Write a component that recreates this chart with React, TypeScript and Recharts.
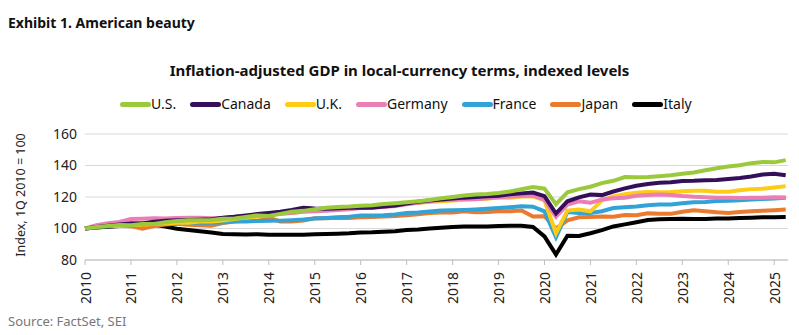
import { LineChart, Line, XAxis, YAxis, CartesianGrid } from 'recharts'

// quarterly, 1Q 2010 = 100
const quarters: number[] = []
for (let y = 2010; y <= 2025; y++) {
  for (let q = 0; q < 4; q++) quarters.push(y + q * 0.25)
}

const us = [
  100, 100.9, 101.6, 102.2, 102.0, 102.8, 102.9, 104.0, 104.8, 105.2, 105.3, 105.4,
  106.2, 106.4, 107.3, 108.3, 107.9, 109.3, 110.6, 111.2, 112.2, 113.2, 113.7, 113.9,
  114.4, 114.8, 115.5, 116.0, 116.6, 117.3, 118.1, 119.2, 120.0, 120.9, 121.6, 121.9,
  122.6, 123.5, 124.9, 126.3, 125.3, 115.5, 123.0, 125.0, 126.5, 128.8, 130.3, 132.7,
  132.5, 132.7, 133.2, 133.8, 134.8, 135.6, 137.0, 138.2, 139.4, 140.2, 141.5, 142.2,
  142.0, 143.4,
]
const canada = [
  100, 101.0, 101.8, 102.5, 103.1, 103.2, 104.3, 105.0, 105.2, 105.4, 105.6, 105.9,
  106.8, 107.4, 108.3, 109.2, 109.9, 110.6, 111.8, 113.2, 112.7, 112.5, 112.9, 113.1,
  113.4, 113.2, 113.9, 114.6, 115.9, 117.0, 117.8, 118.4, 119.0, 119.6, 120.0, 120.4,
  120.8, 121.7, 122.3, 122.8, 120.5, 109.5, 117.3, 119.8, 121.6, 121.2, 123.5, 125.5,
  127.1, 128.3, 129.0, 129.3, 130.1, 130.3, 130.7, 130.8, 131.4, 132.1, 133.0, 134.3,
  134.8, 133.8,
]
const uk = [
  100, 101.0, 101.7, 101.6, 102.3, 102.4, 102.9, 103.2, 103.7, 103.6, 104.5, 104.5,
  105.1, 106.0, 106.9, 107.5, 108.4, 109.3, 110.0, 110.9, 111.4, 111.9, 112.3, 112.9,
  113.2, 113.9, 114.5, 115.3, 115.9, 116.3, 116.9, 117.3, 117.8, 118.3, 118.7, 118.9,
  119.6, 119.6, 120.3, 120.4, 117.9, 97.0, 111.4, 112.0, 110.9, 117.8, 120.3, 121.8,
  122.7, 123.1, 123.0, 123.2, 123.7, 123.9, 124.0, 123.4, 123.3, 124.3, 125.0, 125.3,
  126.1, 126.9,
]
const germany = [
  100, 102.1, 103.4, 104.2, 106.0, 106.2, 106.5, 106.4, 106.6, 106.8, 106.9, 106.5,
  106.7, 107.5, 107.9, 108.6, 109.4, 109.3, 109.8, 110.6, 110.9, 111.3, 111.7, 112.2,
  113.0, 113.5, 113.7, 114.2, 115.4, 116.3, 117.3, 118.1, 118.3, 118.8, 118.5, 119.2,
  119.9, 120.3, 120.6, 120.9, 118.4, 107.5, 115.2, 117.3, 116.3, 118.4, 119.2, 119.5,
  120.8, 121.2, 121.6, 121.3, 120.6, 120.1, 119.9, 119.5, 119.6, 119.4, 119.5, 119.6,
  119.9, 119.7,
]
const france = [
  100, 100.8, 101.5, 102.1, 103.3, 103.4, 103.6, 103.8, 103.9, 103.6, 103.8, 103.7,
  103.8, 104.4, 104.5, 104.8, 104.9, 105.0, 105.3, 105.7, 106.4, 106.7, 107.1, 107.4,
  108.2, 108.2, 108.4, 108.9, 109.8, 110.2, 110.8, 111.5, 111.6, 111.8, 112.1, 112.5,
  113.0, 113.5, 114.1, 113.8, 110.9, 94.5, 110.5, 109.9, 109.9, 111.0, 113.0, 113.5,
  114.0, 114.8, 115.2, 115.3, 116.0, 116.7, 116.9, 117.4, 117.6, 118.0, 118.4, 118.8,
  119.0, 119.5,
]
const japan = [
  100, 101.0, 102.0, 101.8, 101.5, 99.8, 101.5, 102.5, 103.0, 102.4, 102.0, 101.8,
  103.5, 104.5, 105.0, 104.8, 106.8, 104.5, 104.4, 105.0, 106.5, 106.5, 106.8, 106.6,
  107.2, 107.3, 107.6, 108.0, 108.4, 109.1, 109.8, 110.2, 110.2, 110.9, 110.3, 110.5,
  110.9, 111.0, 111.4, 107.6, 107.8, 100.0, 105.2, 107.1, 107.3, 107.6, 107.4, 108.6,
  108.4, 109.6, 109.3, 109.3, 110.6, 111.6, 110.9, 110.3, 109.9, 110.5, 110.9, 111.3,
  111.6, 112.0,
]
const italy = [
  100, 100.6, 101.1, 101.6, 102.0, 102.5, 102.3, 101.2, 99.8, 99.0, 98.2, 97.4,
  96.5, 96.3, 96.2, 96.3, 96.1, 96.0, 96.1, 96.0, 96.3, 96.5, 96.7, 97.0,
  97.5, 97.6, 98.0, 98.3, 99.0, 99.4, 100.0, 100.4, 100.9, 101.2, 101.2, 101.3,
  101.6, 101.8, 101.8, 101.0, 95.0, 83.5, 95.4, 95.2, 97.0, 99.0, 101.3, 102.6,
  104.0, 105.4, 105.8, 106.0, 106.2, 106.0, 106.1, 106.3, 106.4, 106.6, 106.9, 107.1,
  107.2, 107.3,
]

const yearTicks = [2010, 2011, 2012, 2013, 2014, 2015, 2016, 2017, 2018, 2019, 2020, 2021, 2022, 2023, 2024, 2025]
const valueTicks = [80, 100, 120, 140, 160]

const series = [
  { key: 'us', name: 'U.S.', color: '#9ACA3C', values: us },
  { key: 'canada', name: 'Canada', color: '#35105A', values: canada },
  { key: 'uk', name: 'U.K.', color: '#FECB16', values: uk },
  { key: 'germany', name: 'Germany', color: '#EA7FB5', values: germany },
  { key: 'france', name: 'France', color: '#31A3D6', values: france },
  { key: 'japan', name: 'Japan', color: '#E97A2E', values: japan },
  { key: 'italy', name: 'Italy', color: '#000000', values: italy },
]

const data = us.map((_, i) => {
  const row: { [k: string]: number } = { t: quarters[i] }
  series.forEach(s => { row[s.key] = s.values[i] })
  return row
})

// draw order: Italy at the back ... U.S. on top
const drawOrder = ['italy', 'japan', 'france', 'uk', 'germany', 'canada', 'us']

const font = '"Segoe UI", "Noto Sans", sans-serif'

function YearTick(props: any) {
  const { x, y, payload } = props
  return (
    <text
      x={x}
      y={y + 5}
      transform={`rotate(-90, ${x}, ${y + 5})`}
      textAnchor="end"
      dominantBaseline="central"
      fontSize={14}
      fill="#222"
      fontFamily={font}
    >
      {payload.value}
    </text>
  )
}

export default function App() {
  return (
    <div style={{ position: 'absolute', left: 0, top: 0, width: 799, height: 335, background: '#fff', fontFamily: font, color: '#111' }}>
      <div style={{ position: 'absolute', left: 8, top: 13, fontSize: 14, fontWeight: 700 }}>
        Exhibit 1. American beauty
      </div>
      <div style={{ position: 'absolute', left: 0, width: 799, top: 60, textAlign: 'center', fontSize: 15, fontWeight: 700 }}>
        Inflation-adjusted GDP in local-currency terms, indexed levels
      </div>

      {/* legend */}
      <div style={{ position: 'absolute', left: 120, top: 94, display: 'flex', alignItems: 'center', gap: 14, fontSize: 14 }}>
        {series.map(s => (
          <div key={s.key} style={{ display: 'flex', alignItems: 'center' }}>
            <div style={{ width: 31, height: 5, borderRadius: 3, background: s.color }} />
            <span style={{ lineHeight: '20px' }}>{s.name}</span>
          </div>
        ))}
      </div>

      <div
        style={{
          position: 'absolute', left: 20, top: 195, fontSize: 12.5, color: '#222', whiteSpace: 'nowrap',
          transform: 'translate(-50%, -50%) rotate(-90deg)',
        }}
      >
        Index, 1Q 2010 = 100
      </div>

      <div style={{ position: 'absolute', left: 0, top: 0 }}>
        <LineChart width={799} height={335} data={data} margin={{ top: 134, right: 11, bottom: 35, left: 40 }}>
          <CartesianGrid vertical={false} stroke="#D9D9D9" />
          <XAxis
            dataKey="t"
            type="number"
            domain={[2010, 2025.3]}
            ticks={yearTicks}
            interval={0}
            height={40}
            stroke="#BFBFBF"
            tickSize={5}
            tick={<YearTick />}
          />
          <YAxis
            domain={[80, 160]}
            ticks={valueTicks}
            width={45}
            axisLine={false}
            tickLine={false}
            tick={{ fill: '#222', fontSize: 14, fontFamily: font }}
          />
          {drawOrder.map(k => {
            const s = series.find(x => x.key === k)!
            return (
              <Line
                key={k}
                dataKey={k}
                stroke={s.color}
                strokeWidth={4}
                dot={false}
                type="linear"
                isAnimationActive={false}
              />
            )
          })}
        </LineChart>
      </div>

      <div style={{ position: 'absolute', left: 8, top: 312, fontSize: 13, color: '#777' }}>
        Source: FactSet, SEI
      </div>
    </div>
  )
}
